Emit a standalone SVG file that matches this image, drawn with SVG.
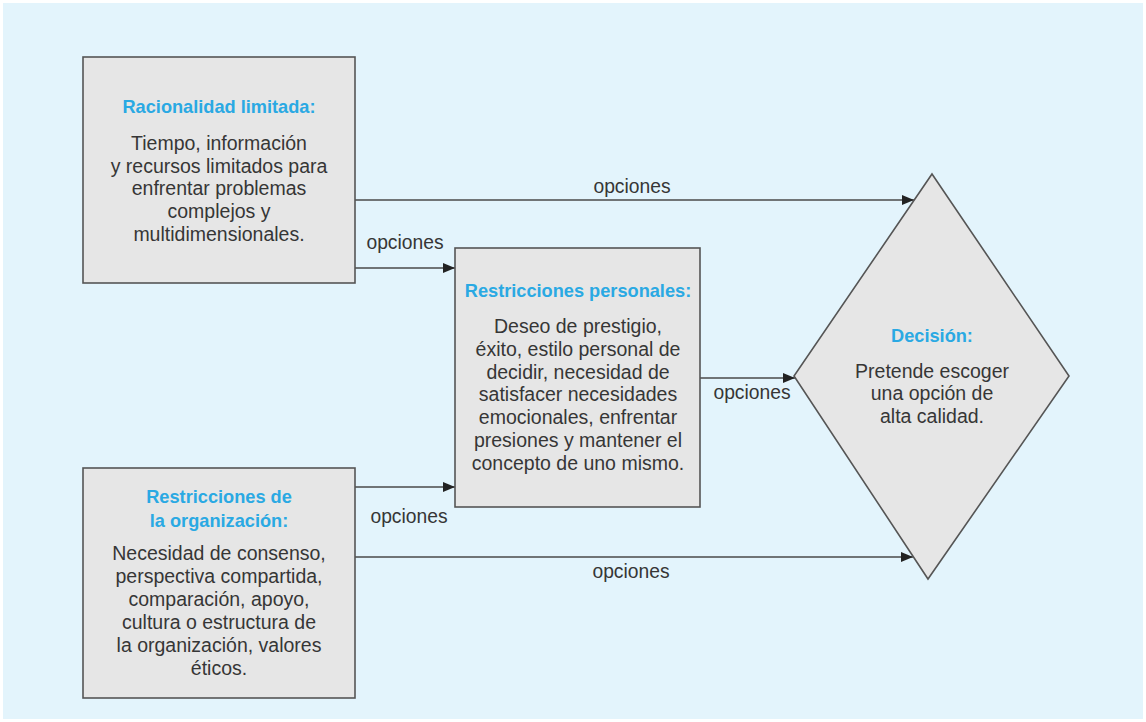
<svg xmlns="http://www.w3.org/2000/svg" width="1146" height="722" viewBox="0 0 1146 722">
  <style>
    .node { fill: #e6e6e6; stroke: #555555; stroke-width: 1.6; }
    .title { font-family: "Liberation Sans", Arial, sans-serif; font-weight: bold; font-size: 18.2px; fill: #2aa9e3; text-anchor: middle; }
    .body { font-family: "Liberation Sans", Arial, sans-serif; font-size: 19.5px; fill: #363636; text-anchor: middle; }
    .label { font-family: "Liberation Sans", Arial, sans-serif; font-size: 19.3px; fill: #363636; text-anchor: middle; }
    .edge { fill: none; stroke: #4a4a4a; stroke-width: 1.6; marker-end: url(#arrow); }
  </style>
  <defs>
    <marker id="arrow" viewBox="0 0 12 10" refX="12" refY="5" markerWidth="12" markerHeight="10" markerUnits="userSpaceOnUse" orient="auto">
      <path d="M0,0 L12,5 L0,10 Z" fill="#222"/>
    </marker>
  </defs>

  <!-- panel background -->
  <rect x="3" y="3" width="1140" height="716" fill="#e3f4fc"/>

  <!-- connectors -->
  <g id="connectors">
    <line class="edge" x1="355" y1="200" x2="914" y2="200"/>
    <line class="edge" x1="355" y1="268" x2="455" y2="268"/>
    <line class="edge" x1="355" y1="487" x2="455" y2="487"/>
    <line class="edge" x1="355" y1="557" x2="913" y2="557"/>
    <line class="edge" x1="700" y1="378" x2="795" y2="378"/>
    <text class="label" x="632" y="193">opciones</text>
    <text class="label" x="405" y="249">opciones</text>
    <text class="label" x="409" y="523">opciones</text>
    <text class="label" x="631" y="578">opciones</text>
    <text class="label" x="752" y="399">opciones</text>
  </g>

  <!-- bounded rationality -->
  <g id="racionalidad">
    <rect class="node" x="83" y="57" width="272" height="226"/>
    <text class="title" x="219" y="113">Racionalidad limitada:</text>
    <text class="body" x="219" y="150">Tiempo, información</text>
    <text class="body" x="219" y="173">y recursos limitados para</text>
    <text class="body" x="219" y="195">enfrentar problemas</text>
    <text class="body" x="219" y="218">complejos y</text>
    <text class="body" x="219" y="241">multidimensionales.</text>
  </g>

  <!-- personal constraints -->
  <g id="personales">
    <rect class="node" x="455" y="248" width="245" height="259"/>
    <text class="title" x="578" y="297">Restricciones personales:</text>
    <text class="body" x="578" y="333">Deseo de prestigio,</text>
    <text class="body" x="578" y="356">éxito, estilo personal de</text>
    <text class="body" x="578" y="379">decidir, necesidad de</text>
    <text class="body" x="578" y="401">satisfacer necesidades</text>
    <text class="body" x="578" y="424">emocionales, enfrentar</text>
    <text class="body" x="578" y="447">presiones y mantener el</text>
    <text class="body" x="578" y="470">concepto de uno mismo.</text>
  </g>

  <!-- organizational constraints -->
  <g id="organizacion">
    <rect class="node" x="83" y="468" width="272" height="230"/>
    <text class="title" x="219" y="503">Restricciones de</text>
    <text class="title" x="219" y="527">la organización:</text>
    <text class="body" x="219" y="560">Necesidad de consenso,</text>
    <text class="body" x="219" y="583">perspectiva compartida,</text>
    <text class="body" x="219" y="606">comparación, apoyo,</text>
    <text class="body" x="219" y="629">cultura o estructura de</text>
    <text class="body" x="219" y="652">la organización, valores</text>
    <text class="body" x="219" y="675">éticos.</text>
  </g>

  <!-- decision -->
  <g id="decision">
    <polygon class="node" points="932,174 1069,376 928,579 794,376"/>
    <text class="title" x="932" y="342">Decisión:</text>
    <text class="body" x="932" y="378">Pretende escoger</text>
    <text class="body" x="932" y="400">una opción de</text>
    <text class="body" x="932" y="423">alta calidad.</text>
  </g>
</svg>
